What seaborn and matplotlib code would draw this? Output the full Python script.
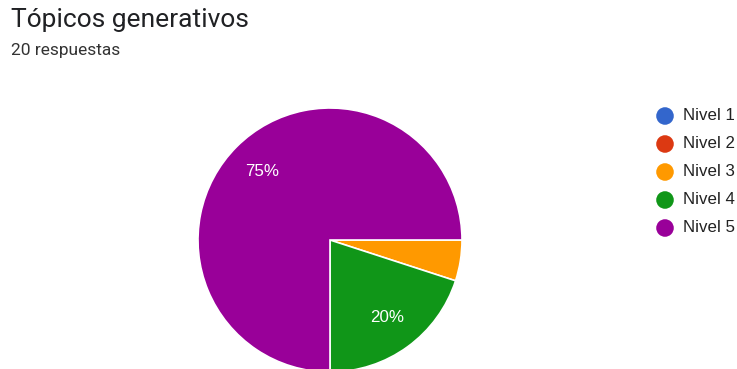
import matplotlib
matplotlib.use("Agg")
import matplotlib.pyplot as plt
import seaborn as sns

# Survey results
title = "Tópicos generativos"
subtitle = "20 respuestas"
categories = ["Nivel 1", "Nivel 2", "Nivel 3", "Nivel 4", "Nivel 5"]
counts = [0, 0, 1, 4, 15]
colors = ["#3366cc", "#dc3912", "#ff9900", "#109618", "#990099"]

sns.set_theme(style="white")
plt.rcParams["font.family"] = ["Roboto", "DejaVu Sans"]
palette = sns.color_palette(colors)
arial = ["Liberation Sans", "DejaVu Sans"]

W, H = 737, 369
fig = plt.figure(figsize=(W / 100, H / 100), dpi=100)
ax = fig.add_axes([0, 0, 1, 1])

shown = [(c, col) for c, col in zip(counts, palette) if c > 0]
vals = [c for c, _ in shown]
cols = [col for _, col in shown]


def pct_label(p):
    return f"{p:.0f}%" if p >= 10 else ""


ax.pie(
    vals,
    colors=cols,
    startangle=0,
    counterclock=False,
    center=(330, H - 240),
    radius=132,
    autopct=pct_label,
    pctdistance=0.73,
    wedgeprops=dict(edgecolor="white", linewidth=1.2),
    textprops=dict(color="white", fontsize=12.2, family=arial),
    frame=True,
)
ax.set_xlim(0, W)
ax.set_ylim(0, H)
ax.set_aspect("equal")
ax.axis("off")

# Header
fig.text(11 / W, 1 - 20 / H, title, fontsize=19, color="#202124", va="center", ha="left")
fig.text(11 / W, 1 - 51 / H, subtitle, fontsize=12.5, color="#333333", va="center", ha="left")

# Legend
for i, (name, col) in enumerate(zip(categories, palette)):
    y = H - (116 + i * 28)
    ax.scatter([665], [y], s=160, color=col, edgecolor="none", zorder=5)
    ax.text(683, y, name, fontsize=12.2, family=arial, color="#222222", va="center", ha="left")

fig.savefig("out.png", dpi=100, facecolor="white")
